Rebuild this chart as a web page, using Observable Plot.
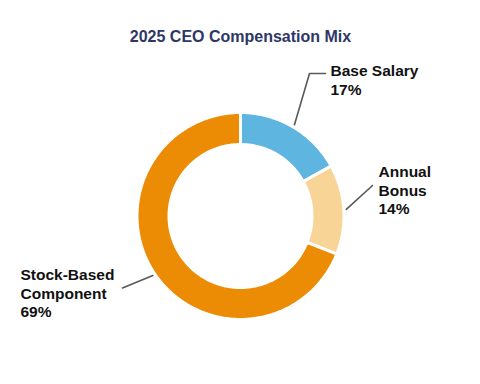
<!DOCTYPE html>
<html>
<head>
<meta charset="utf-8">
<script src="https://cdn.jsdelivr.net/npm/d3@7"></script>
<script src="https://cdn.jsdelivr.net/npm/@observablehq/plot@0.6"></script>
<style>
  html, body { margin: 0; padding: 0; background: #fff; }
</style>
</head>
<body>
<div id="chart"></div>
<script>
// ---- data ----
const title = "2025 CEO Compensation Mix";
const categories = ["Base Salary", "Annual Bonus", "Stock-Based Component"];
const labelTexts = ["Base Salary", "Annual\nBonus", "Stock-Based\nComponent"];
const shares = [17, 14, 69];

// ---- style / layout ----
const colors = ["#5EB6E0", "#F9D497", "#EB8C04"];
const W = 480, H = 384;
const cx = 240, cy = 215.5, R = 103.5, r0 = 71.5;
// leader-line end points and label anchors (layout only)
const layout = [
  {mid: [309, 73], end: [325, 73], text: [330, 62.3]},
  {mid: null, end: [372, 185], text: [378, 163.3]},
  {mid: null, end: [122, 287.5], text: [20, 266.3]}
];

const total = d3.sum(shares);
const slicePts = [];
const leaderPts = [];
const labelRows = [];
let acc = 0;
shares.forEach((v, i) => {
  const a0 = acc / total * 2 * Math.PI;
  const a1 = (acc + v) / total * 2 * Math.PI;
  const n = Math.ceil(v * 4) + 2;
  for (let k = 0; k <= n; k++) {
    const a = a0 + (a1 - a0) * k / n;
    slicePts.push({key: categories[i], x: cx + R * Math.sin(a), y: cy - R * Math.cos(a)});
  }
  for (let k = n; k >= 0; k--) {
    const a = a0 + (a1 - a0) * k / n;
    slicePts.push({key: categories[i], x: cx + r0 * Math.sin(a), y: cy - r0 * Math.cos(a)});
  }
  const am = (a0 + a1) / 2;
  const L = layout[i];
  leaderPts.push({key: categories[i], x: cx + 106 * Math.sin(am), y: cy - 106 * Math.cos(am)});
  if (L.mid) leaderPts.push({key: categories[i], x: L.mid[0], y: L.mid[1]});
  leaderPts.push({key: categories[i], x: L.end[0], y: L.end[1]});
  labelRows.push({x: L.text[0], y: L.text[1], text: labelTexts[i] + "\n" + v + "%"});
  acc += v;
});

const chart = Plot.plot({
  width: W,
  height: H,
  margin: 0,
  style: {fontFamily: "'Liberation Sans', Arial, sans-serif", background: "#fff"},
  x: {domain: [0, W], range: [0, W], axis: null},
  y: {domain: [0, H], range: [0, H], axis: null},
  color: {domain: categories, range: colors},
  marks: [
    Plot.line(slicePts, {x: "x", y: "y", z: "key", fill: "key", stroke: "white", strokeWidth: 3, curve: "linear-closed"}),
    Plot.line(leaderPts, {x: "x", y: "y", z: "key", stroke: "#595959", strokeWidth: 1.6}),
    Plot.text(labelRows, {x: "x", y: "y", text: "text", textAnchor: "start", lineAnchor: "top",
      fontSize: 15.5, fontWeight: "bold", fill: "#111", lineHeight: 1.2}),
    Plot.text([title], {x: () => W / 2, y: () => 30.6, text: d => d, textAnchor: "middle", lineAnchor: "top",
      fontSize: 16, fontWeight: "bold", fill: "#2E3766"})
  ]
});
document.getElementById("chart").appendChild(chart);
</script>
</body>
</html>
